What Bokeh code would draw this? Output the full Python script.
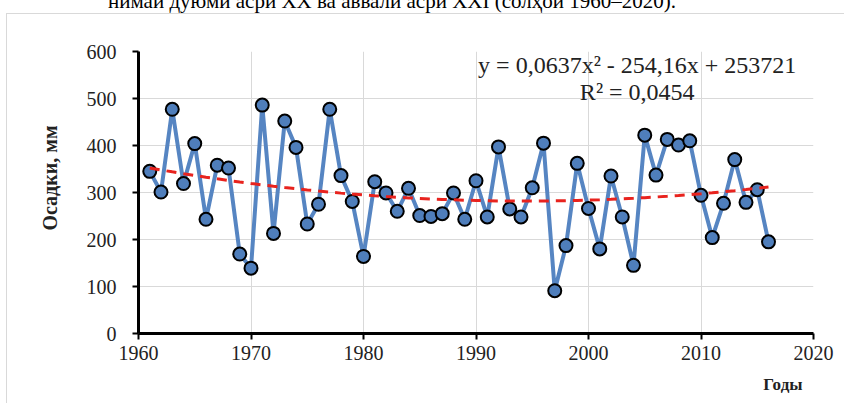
import numpy as np
from bokeh.plotting import figure
from bokeh.layouts import column
from bokeh.models import Label, FixedTicker, Range1d, Title, Div
from bokeh.embed import file_html
from bokeh.resources import INLINE

# ---- data ----
years = list(range(1961, 2017))
precip = [345, 301, 477, 319, 404, 243, 358, 352, 169, 139,
          486, 213, 452, 396, 233, 275, 477, 336, 281, 164,
          323, 299, 260, 309, 251, 249, 255, 299, 243, 325,
          248, 397, 265, 248, 310, 405, 91, 187, 362, 266,
          180, 335, 248, 145, 422, 337, 413, 401, 410, 294,
          204, 277, 370, 279, 306, 195]
x_ticks = [1960, 1970, 1980, 1990, 2000, 2010, 2020]
y_ticks = [0, 100, 200, 300, 400, 500, 600]
equation = "y = 0,0637x² - 254,16x + 253721"
r2_text = "R² = 0,0454"
y_title = "Осадки, мм"
x_title = "Годы"
caption = "нимаи дуюми асри XX ва аввали асри XXI (солҳои 1960–2020)."

# polynomial (order 2) trend fitted to the data, as in the source chart
yr = np.array(years, dtype=float)
coef = np.polyfit(yr - 1988.0, np.array(precip, dtype=float), 2)
trend = np.polyval(coef, yr - 1988.0)

SERIF = "Liberation Serif"

p = figure(width=838, height=390, output_backend="svg", toolbar_location=None,
           x_range=Range1d(1960, 2020), y_range=Range1d(0, 600),
           min_border_left=131, min_border_right=32,
           min_border_top=37, min_border_bottom=71,
           margin=(0, 0, 0, 6),
           styles={"border-left": "1px solid #D9D9D9",
                   "border-top": "1px solid #D9D9D9"})
p.outline_line_color = None
p.background_fill_color = "white"
p.border_fill_color = "white"

# grid
p.xgrid.ticker = FixedTicker(ticks=x_ticks)
p.ygrid.ticker = FixedTicker(ticks=y_ticks)
for g in (p.xgrid, p.ygrid):
    g.grid_line_color = "#D9D9D9"
    g.grid_line_width = 1

# axes
p.xaxis.ticker = FixedTicker(ticks=x_ticks)
p.yaxis.ticker = FixedTicker(ticks=y_ticks)
for ax in (p.xaxis, p.yaxis):
    ax.axis_line_color = "black"
    ax.axis_line_width = 3
    ax.major_tick_line_color = "black"
    ax.major_tick_line_width = 2
    ax.major_tick_out = 6
    ax.major_tick_in = 0
    ax.minor_tick_line_color = None
    ax.major_label_text_font = SERIF
    ax.major_label_text_font_size = "20px"
    ax.major_label_text_color = "#222222"
p.yaxis.major_label_standoff = 16
p.xaxis.major_label_standoff = 6

# y axis title (left side, above centre as in the source)
p.add_layout(Title(text=y_title, align="right", offset=74, standoff=45,
                   text_font=SERIF, text_font_size="20px", text_font_style="bold",
                   text_color="#222222"), "left")

# x axis title, bottom right
p.add_layout(Title(text=x_title, align="right", offset=11, standoff=21,
                   text_font=SERIF, text_font_size="17px", text_font_style="bold",
                   text_color="#222222"), "below")


def px_x(px):
    return 1960 + (px - 138) / (674 / 60)


def px_y(py):
    return (333 - py) / (282 / 600)


# data series
p.line(years, precip, line_color="#5685C2", line_width=4)
p.scatter(years, precip, size=13, marker="circle", fill_color="#4F7EBB",
          line_color="black", line_width=2)
# trend line
p.line(years, trend.tolist(), line_color="#E8231E", line_width=3, line_dash="10 7")

# equation texts
p.add_layout(Label(x=px_x(636), y=px_y(64), text=equation, text_align="center",
                   text_baseline="middle", text_font=SERIF, text_font_size="24px",
                   text_color="#222222"))
p.add_layout(Label(x=px_x(636), y=px_y(91), text=r2_text, text_align="center",
                   text_baseline="middle", text_font=SERIF, text_font_size="24px",
                   text_color="#222222"))

# cropped caption line of the surrounding document at the very top
cap = Div(width=676, height=13, margin=(0, 0, 0, 0),
          text=('<div style="position:absolute; right:0; top:-9px; white-space:nowrap; '
                'font-family:\'Liberation Serif\'; font-size:21px; line-height:21px; color:black;">'
                + caption + '</div>'),
          styles={"position": "relative", "overflow": "visible"})

layout = column(cap, p, spacing=0)

open("out.html", "w").write(file_html(layout, INLINE))
